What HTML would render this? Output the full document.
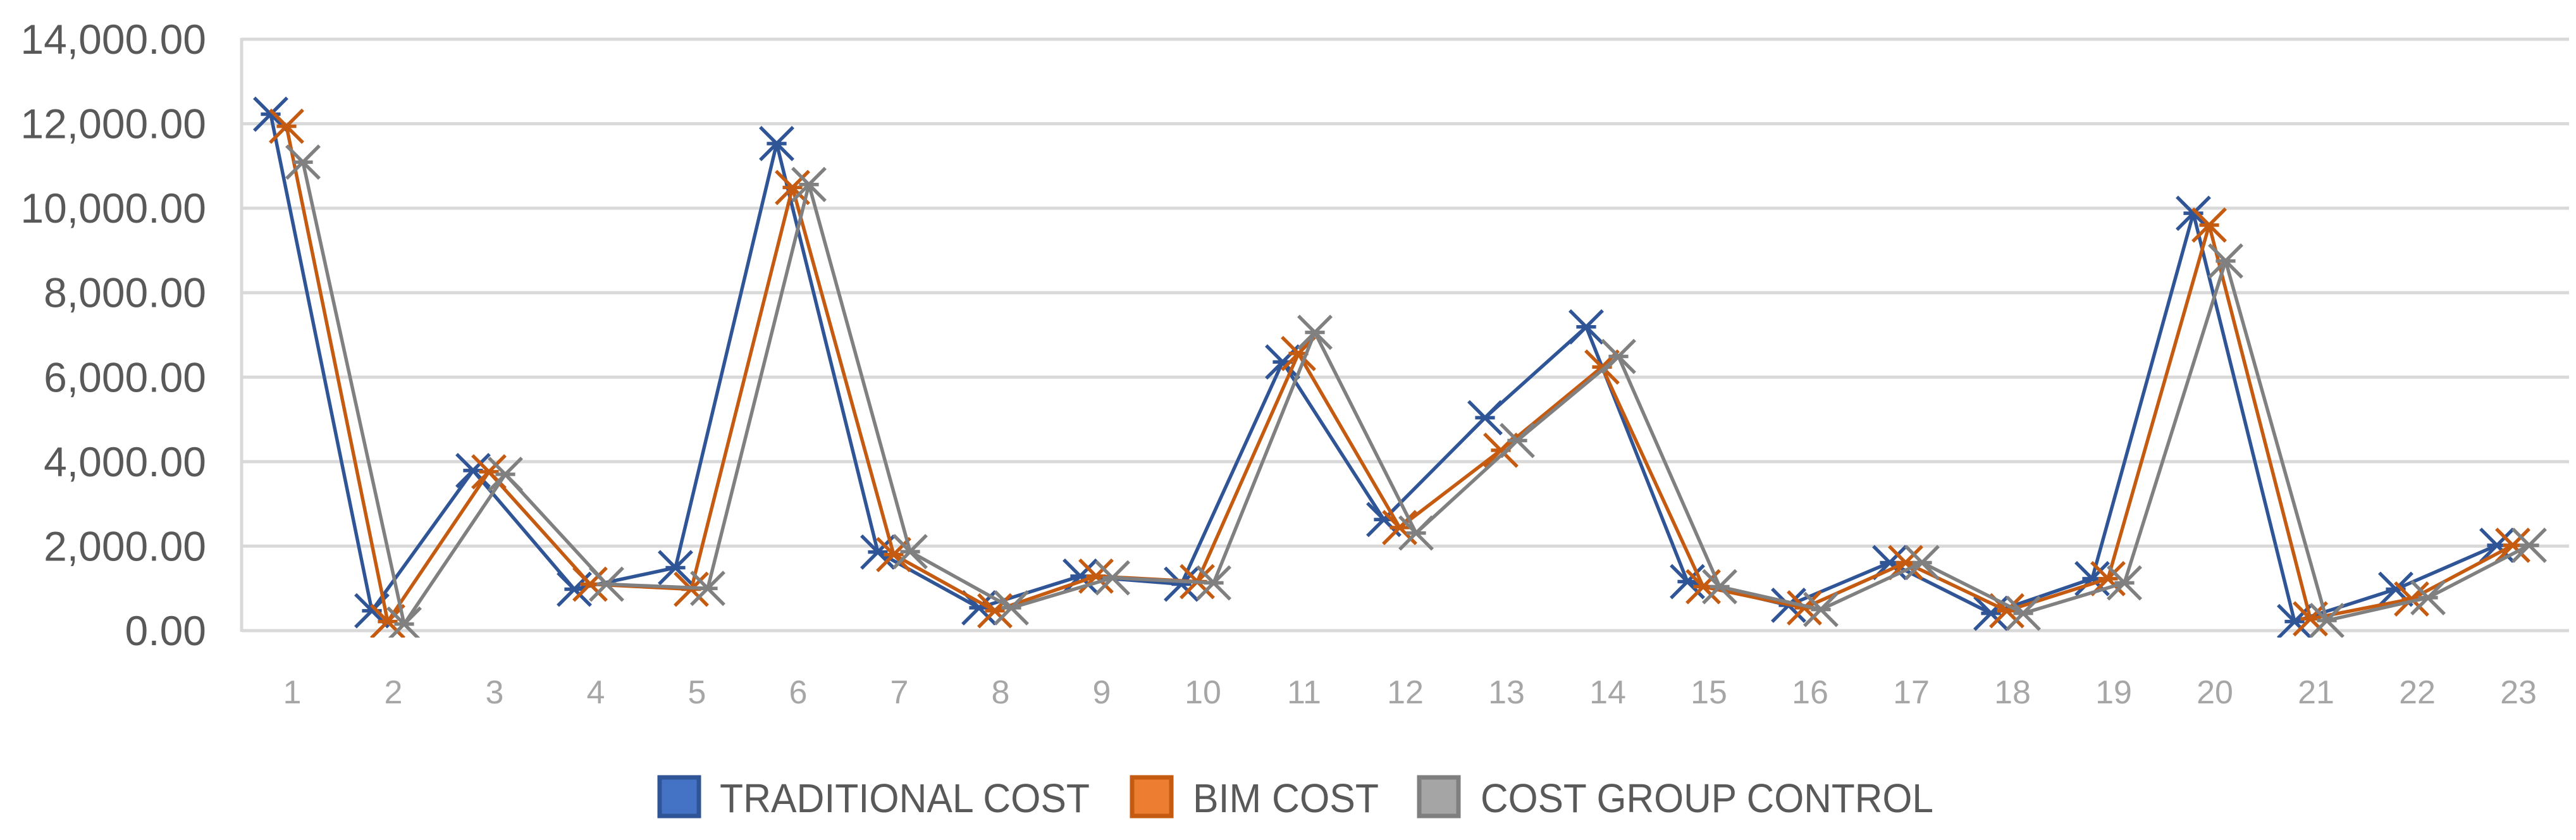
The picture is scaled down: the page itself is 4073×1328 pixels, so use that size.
<!DOCTYPE html>
<html><head><meta charset="utf-8"><style>
html,body{margin:0;padding:0;background:#fff;}
svg{display:block;font-family:"Liberation Sans",sans-serif;}
</style></head><body>
<svg id="chart" width="4073" height="1328" viewBox="0 0 4073 1328" xmlns="http://www.w3.org/2000/svg">
<defs><clipPath id="plotclip"><rect x="382" y="0" width="3700" height="1008"/></clipPath></defs>
<g id="grid"></g>
<g id="yticks"></g>
<g id="xticks"></g>
<g id="series" clip-path="url(#plotclip)"></g>
<g>
  <g>
    <rect x="1043" y="1229" width="62" height="61" fill="#4472c4" stroke="#2f5597" stroke-width="7"/>
    <text x="1138" y="1284" font-size="64" fill="#595959" textLength="585" lengthAdjust="spacingAndGlyphs">TRADITIONAL COST</text>
  </g>
  <g>
    <rect x="1790" y="1229" width="62" height="61" fill="#ed7d31" stroke="#c55a11" stroke-width="7"/>
    <text x="1886" y="1284" font-size="64" fill="#595959" textLength="294" lengthAdjust="spacingAndGlyphs">BIM COST</text>
  </g>
  <g>
    <rect x="2244" y="1229" width="62" height="61" fill="#a5a5a5" stroke="#7f7f7f" stroke-width="7"/>
    <text x="2341" y="1284" font-size="64" fill="#595959" textLength="716" lengthAdjust="spacingAndGlyphs">COST GROUP CONTROL</text>
  </g>
</g>
</svg>
<script>
const categories = ["1","2","3","4","5","6","7","8","9","10","11","12","13","14","15","16","17","18","19","20","21","22","23"];
const traditionalCost = [12225,470,3790,980,1490,11530,1860,540,1290,1100,6360,2630,5040,7190,1160,600,1610,410,1230,9880,215,980,2020];
const bimCost = [11940,215,3760,1100,980,10490,1800,470,1290,1160,6560,2440,4270,6240,1040,540,1610,470,1230,9600,280,750,2020];
const costGroupControl = [11090,155,3700,1100,1000,10560,1870,540,1250,1130,7060,2310,4500,6490,1040,500,1610,410,1130,8750,240,780,2020];
const yTicks = [0,2000,4000,6000,8000,10000,12000,14000];
const yTickLabels = ["0.00","2,000.00","4,000.00","6,000.00","8,000.00","10,000.00","12,000.00","14,000.00"];

const NS="http://www.w3.org/2000/svg";
const L=382,R=4062,T=62,B=997,YMAX=14000;
const band=(R-L)/categories.length;
function xPos(i){return L+band*(i+0.5);}
function yPos(v){return B-(v/YMAX)*(B-T);}
function mk(tag,attrs,parent){const e=document.createElementNS(NS,tag);for(const k in attrs)e.setAttribute(k,attrs[k]);parent.appendChild(e);return e;}

const grid=document.getElementById('grid');
yTicks.forEach((v,i)=>{
  const l=mk('line',{x1:L,x2:R,y1:yPos(v),y2:yPos(v),stroke:'#d9d9d9','stroke-width':5},grid);
  
  
});
const ax=mk('line',{x1:L,x2:L,y1:T-2,y2:B+2,stroke:'#d9d9d9','stroke-width':5},grid);



const yt=document.getElementById('yticks');
yTicks.forEach((v,i)=>{
  const t=mk('text',{x:326,y:yPos(v)+23,'text-anchor':'end','font-size':66,fill:'#595959'},yt);
  t.textContent=yTickLabels[i];
  
  
});
const xt=document.getElementById('xticks');
categories.forEach((c,i)=>{
  const t=mk('text',{x:xPos(i),y:1112,'text-anchor':'middle','font-size':52,fill:'#a6a6a6'},xt);
  t.textContent=c;
  
  
});

const sg=document.getElementById('series');
const seriesList=[
  {name:'traditional-cost',vals:traditionalCost,color:'#2f5597',off:-34},
  {name:'bim-cost',vals:bimCost,color:'#c55a11',off:-9},
  {name:'cost-group-control',vals:costGroupControl,color:'#808080',off:17}
];
seriesList.forEach(s=>{
  const g=mk('g',{},sg);
  
  
  const pts=s.vals.map((v,i)=>(xPos(i)+s.off)+','+yPos(v)).join(' ');
  const pl=mk('polyline',{points:pts,fill:'none',stroke:s.color,'stroke-width':5.5,'stroke-linejoin':'round'},g);
  
  
  s.vals.forEach((v,i)=>{
    const cx=xPos(i)+s.off,cy=yPos(v),r=26;
    const p=mk('path',{d:`M${cx-r},${cy-r}L${cx+r},${cy+r}M${cx-r},${cy+r}L${cx+r},${cy-r}M${cx-r*0.6},${cy}L${cx+r*0.6},${cy}`,stroke:s.color,'stroke-width':5.5,fill:'none'},g);
    
    
  });
});
</script>
</body></html>
